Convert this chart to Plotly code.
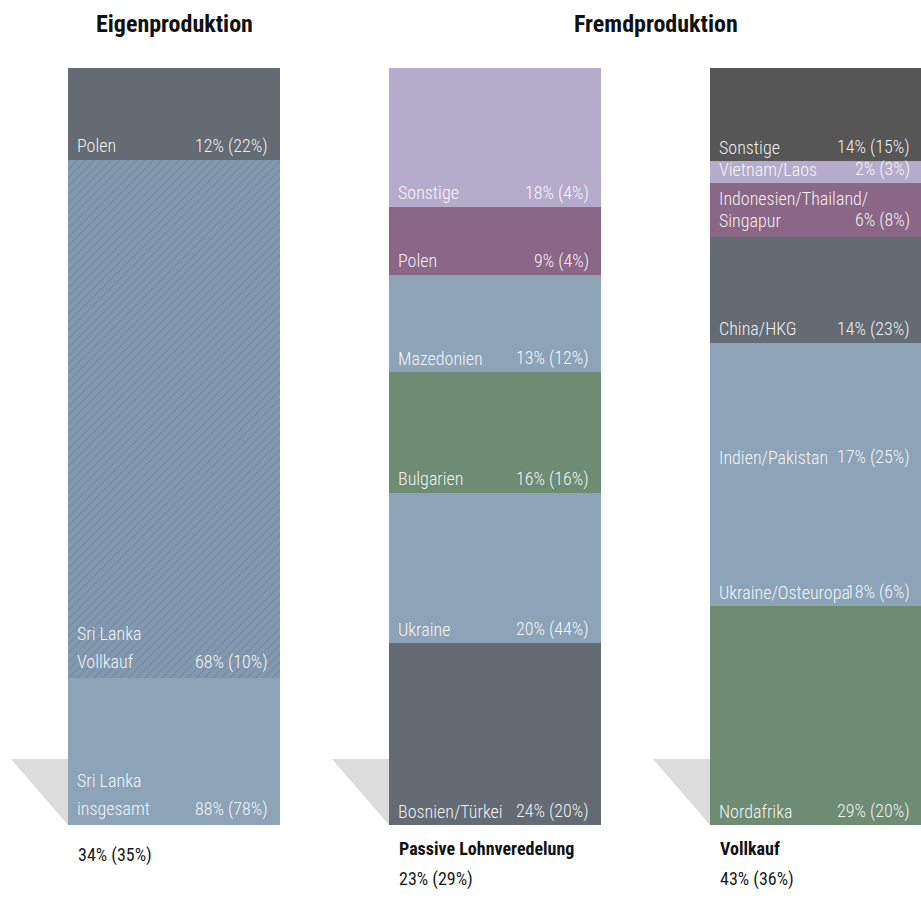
import plotly.graph_objects as go

# ---------------- data ----------------
col1_names = ["Sri Lanka\ninsgesamt", "Polen"]
col1_values = [87.9, 12.1]
col1_labels = ["88% (78%)", "12% (22%)"]
col1_colors = ["#8ca3b8", "#646b73"]
vollkauf_name = "Sri Lanka\nVollkauf"
vollkauf_value = 68.5
vollkauf_label = "68% (10%)"

col2_names = ["Bosnien/Türkei", "Ukraine", "Bulgarien", "Mazedonien", "Polen", "Sonstige"]
col2_values = [24.0, 19.9, 15.9, 12.9, 9.0, 18.3]
col2_labels = ["24% (20%)", "20% (44%)", "16% (16%)", "13% (12%)", "9% (4%)", "18% (4%)"]
col2_colors = ["#646b73", "#8ca3b8", "#6e8b74", "#8ca3b8", "#8a6787", "#b5abcb"]

col3_names = ["Nordafrika", "Ukraine/Osteuropa", "Indien/Pakistan", "China/HKG",
              "Indonesien/Thailand/\nSingapur", "Vietnam/Laos", "Sonstige"]
col3_values = [28.9, 17.8, 17.0, 14.0, 7.1, 2.9, 12.3]
col3_labels = ["29% (20%)", "18% (6%)", "17% (25%)", "14% (23%)", "6% (8%)", "2% (3%)", "14% (15%)"]
col3_colors = ["#6e8b74", "#8ca3b8", "#8ca3b8", "#646b73", "#8a6787", "#b5abcb", "#565656"]

headers = ["Eigenproduktion", "Fremdproduktion"]
bottom_titles = ["", "Passive Lohnveredelung", "Vollkauf"]
bottom_values = ["34% (35%)", "23% (29%)", "43% (36%)"]

# ---------------- geometry ----------------
W, H = 921, 899
PX_X = 321.0          # pixels per column step
BAR_W = 212 / PX_X    # bar width in x units
X_MIN = -174 / PX_X
X_MAX = X_MIN + W / PX_X
PX_Y = 7.57           # pixels per percent
Y_MIN = -(H - 825) / PX_Y
Y_MAX = 825 / PX_Y

FONT = "Roboto Condensed, Roboto, Liberation Sans Narrow, sans-serif"
LABEL_COLOR = "rgba(255,255,255,0.93)"
LABEL_SIZE = 18

fig = go.Figure()
annotations = []
shapes = []


def add_labels(col, base, value, name, label):
    xl = col - BAR_W / 2
    xr = col + BAR_W / 2
    xr_vis = min(xr, X_MAX - 1e-4)
    extra = (xr - xr_vis) * PX_X
    lines = name.split("\n")
    seg_px = value * PX_Y
    if len(lines) == 1:
        offs = [14]
    else:
        gap = min(28, seg_px - 32)
        offs = [16.5 + gap * (len(lines) - 1 - i) for i in range(len(lines))]
    for line, off in zip(lines, offs):
        annotations.append(dict(x=xl, y=base, xref="x", yref="y", text=line, showarrow=False,
                                xanchor="left", yanchor="middle", xshift=7, yshift=off,
                                font=dict(family=FONT, size=LABEL_SIZE, color=LABEL_COLOR, weight=300)))
    annotations.append(dict(x=xr_vis, y=base, xref="x", yref="y", text=label, showarrow=False,
                            xanchor="right", yanchor="middle", xshift=-10 + extra, yshift=offs[-1],
                            font=dict(family=FONT, size=LABEL_SIZE, color=LABEL_COLOR, weight=300)))


def add_column(col, names, values, labels, colors):
    base = 0.0
    bases = []
    for n, v, l, c in zip(names, values, labels, colors):
        fig.add_trace(go.Bar(x=[col], y=[v], base=[base], width=BAR_W,
                             marker=dict(color=c, line=dict(width=0)),
                             hoverinfo="skip", showlegend=False))
        bases.append(base)
        base += v
    return bases


cols = [(col1_names, col1_values, col1_labels, col1_colors),
        (col2_names, col2_values, col2_labels, col2_colors),
        (col3_names, col3_values, col3_labels, col3_colors)]

all_bases = []
for i, (n, v, l, c) in enumerate(cols):
    all_bases.append(add_column(i, n, v, l, c))

# hatched Vollkauf overlay at top of Sri Lanka segment
vk_base = col1_values[0] - vollkauf_value
fig.add_trace(go.Bar(x=[0], y=[vollkauf_value], base=[vk_base], width=BAR_W,
                     marker=dict(color="#8399af", line=dict(width=0),
                                 pattern=dict(shape="/", fgcolor="#62768c", bgcolor="#8399af",
                                              size=6, solidity=0.17)),
                     hoverinfo="skip", showlegend=False))

for i, (n, v, l, c) in enumerate(cols):
    for b, vv, nn, ll in zip(all_bases[i], v, n, l):
        add_labels(i, b, vv, nn, ll)
add_labels(0, vk_base, vollkauf_value, vollkauf_name, vollkauf_label)

# shadow triangles
for i in range(3):
    xl = i - BAR_W / 2
    d = 57 / PX_X
    h = 66 / PX_Y
    shapes.append(dict(type="path", xref="x", yref="y", layer="below",
                       path=f"M {xl - d} {h} L {xl} {h} L {xl} 0 Z",
                       fillcolor="#dcdcdc", line=dict(width=0)))

# headers
annotations.append(dict(x=0, y=100, xref="x", yref="y", text=f"<b>{headers[0]}</b>", showarrow=False,
                        xanchor="center", yanchor="middle", yshift=44,
                        font=dict(family=FONT, size=24, color="#111111")))
annotations.append(dict(x=1.5, y=100, xref="x", yref="y", text=f"<b>{headers[1]}</b>", showarrow=False,
                        xanchor="center", yanchor="middle", yshift=44,
                        font=dict(family=FONT, size=24, color="#111111")))

# bottom texts
for i in range(3):
    xl = i - BAR_W / 2
    if bottom_titles[i]:
        annotations.append(dict(x=xl, y=0, xref="x", yref="y", text=f"<b>{bottom_titles[i]}</b>",
                                showarrow=False, xanchor="left", yanchor="middle", xshift=8, yshift=-23,
                                font=dict(family=FONT, size=LABEL_SIZE, color="#111111")))
        vshift = -54
    else:
        vshift = -30
    annotations.append(dict(x=xl, y=0, xref="x", yref="y", text=bottom_values[i],
                            showarrow=False, xanchor="left", yanchor="middle", xshift=8, yshift=vshift,
                            font=dict(family=FONT, size=LABEL_SIZE, color="#1a1a1a")))

fig.update_layout(
    width=W, height=H, margin=dict(l=0, r=0, t=0, b=0),
    paper_bgcolor="white", plot_bgcolor="white",
    barmode="overlay", bargap=0,
    xaxis=dict(range=[X_MIN, X_MAX], visible=False, fixedrange=True),
    yaxis=dict(range=[Y_MIN, Y_MAX], visible=False, fixedrange=True),
    annotations=annotations, shapes=shapes,
    showlegend=False,
)

fig.write_html("out.html")
